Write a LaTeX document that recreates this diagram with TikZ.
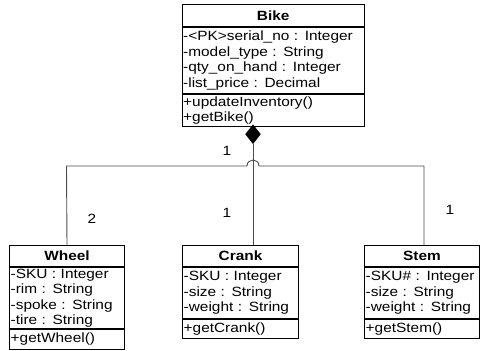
\documentclass[tikz,border=0pt]{standalone}
\usepackage{fontspec}
\setmainfont[FakeStretch=1.15,WordSpace=0.6]{Liberation Sans}
\usetikzlibrary{shapes.geometric}
\newcommand{\ul}[1]{\mbox{#1}}
\begin{document}
\begin{tikzpicture}[x=1pt,y=-1pt,
  every node/.style={font=\fontsize{13.4}{15.5}\selectfont},
  box/.style={draw=black,line width=1pt,anchor=north west,inner xsep=1.2pt,inner ysep=0pt,align=left},
  ttl/.style={box,align=center,font=\fontsize{13.4}{15.5}\selectfont\bfseries},
  conn/.style={draw=black!70,line width=0.9pt},
  lbl/.style={inner sep=0pt}]
\useasboundingbox (0,0) rectangle (480,351);
% Bike
\node[ttl,minimum width=182.5pt,minimum height=22pt] (bikeT) at (181.5,4) {Bike};
\node[box,text width=180.1pt,minimum height=66pt] (bikeA) at (bikeT.south west) {\ul{-<PK>serial\_no : Integer}\\\ul{-model\_type : String}\\\ul{-qty\_on\_hand : Integer}\\\ul{-list\_price : Decimal}};
\node[box,text width=180.1pt,minimum height=32pt] (bikeM) at (bikeA.south west) {\ul{+updateInventory()}\\\ul{+getBike()}};
% Wheel
\node[ttl,minimum width=115pt,minimum height=21pt] (wheelT) at (9,245) {Wheel};
\node[box,text width=112.6pt,minimum height=61pt] (wheelA) at (wheelT.south west) {\ul{-SKU : Integer}\\\ul{-rim : String}\\\ul{-spoke : String}\\\ul{-tire : String}};
\node[box,text width=112.6pt,minimum height=20pt] (wheelM) at (wheelA.south west) {\ul{+getWheel()}};
% Crank
\node[ttl,minimum width=116pt,minimum height=21pt] (crankT) at (182,245) {Crank};
\node[box,text width=113.6pt,minimum height=51pt] (crankA) at (crankT.south west) {\ul{-SKU : Integer}\\\ul{-size : String}\\\ul{-weight : String}};
\node[box,text width=113.6pt,minimum height=19pt] (crankM) at (crankA.south west) {\ul{+getCrank()}};
% Stem
\node[ttl,minimum width=115pt,minimum height=21pt] (stemT) at (364,245) {Stem};
\node[box,text width=112.6pt,minimum height=51pt] (stemA) at (stemT.south west) {\ul{-SKU\# : Integer}\\\ul{-size : String}\\\ul{-weight : String}};
\node[box,text width=112.6pt,minimum height=19pt] (stemM) at (stemA.south west) {\ul{+getStem()}};
% composition diamond
\node[diamond,fill=black,draw=black,inner sep=0pt,minimum width=15pt,minimum height=19pt,anchor=north] (dia) at (253,124.5) {};
\coordinate (jl) at (247,166);
\coordinate (jr) at (259,166);
\coordinate (hl) at (66.5,166);
\coordinate (hr) at (424,166);
\draw[conn] (dia.south) -- (dia.south |- crankT.north);
\draw[conn] (wheelT.north) -- (hl) -- (jl) .. controls (247,158) and (259,158) .. (jr) -- (hr) -- (hr |- stemT.north);
% multiplicities
\node[lbl] (m1) at (227,151) {1};
\node[lbl] (m2) at (92,219) {2};
\node[lbl] (m3) at (227,213) {1};
\node[lbl] (m4) at (450,210) {1};
\end{tikzpicture}
\end{document}
